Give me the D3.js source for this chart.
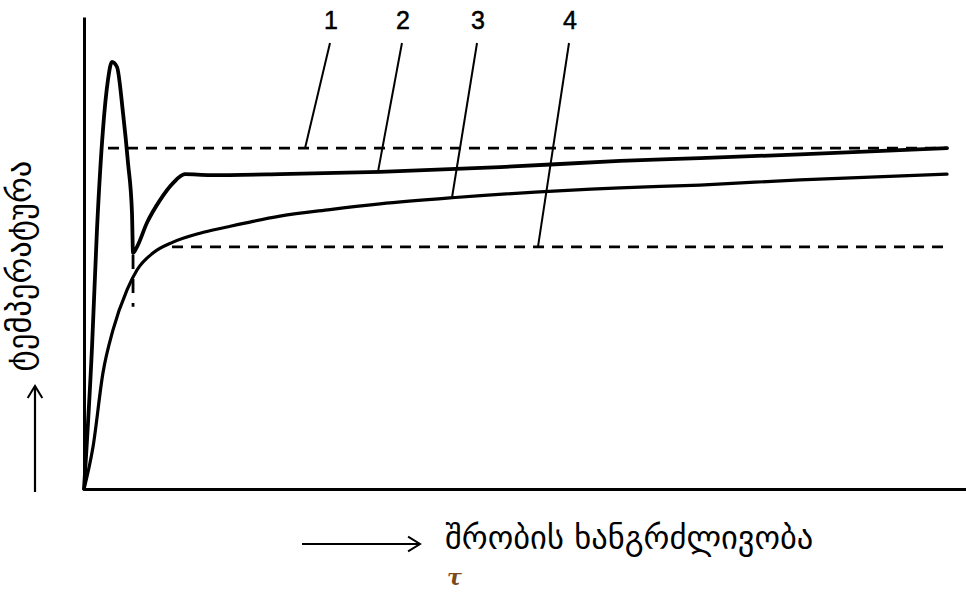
<!DOCTYPE html>
<html>
<head>
<meta charset="utf-8">
<script src="https://cdn.jsdelivr.net/npm/d3@7"></script>
<style>
  body { margin: 0; background: #fff; }
  svg { display: block; }
  .curve { fill: none; stroke: #000; stroke-linejoin: round; stroke-linecap: round; }
  .level { stroke: #000; stroke-width: 2.8; stroke-dasharray: 11,8; }
  .leader { stroke: #000; stroke-width: 2; }
  .num { font-family: "Liberation Sans", Arial, sans-serif; font-size: 25px; }
  .geo { font-family: "DejaVu Sans", sans-serif; font-size: 32.5px; }
</style>
</head>
<body>
<div id="chart"></div>
<script>
// drying time (arbitrary units) / temperature (arbitrary units)
const curve2Time = [0, 0.091, 0.147, 0.215, 0.272, 0.317, 0.374, 0.442, 0.499, 0.544, 0.556, 0.601, 0.714, 0.862, 1.009, 1.145, 1.429, 2.222, 3.356, 4.717, 6.077, 6.984, 8.118, 9.785]
const curve2Temp = [0, 30.1, 54.9, 76.1, 86.7, 90.5, 89.4, 79.7, 69.1, 58.5, 50.0, 51.3, 56.4, 61.2, 64.8, 66.7, 66.5, 66.7, 67.2, 68.2, 69.5, 70.1, 70.9, 72.2]

const curve3Time = [0, 0.102, 0.215, 0.329, 0.488, 0.601, 0.782, 1.009, 1.315, 1.621, 1.916, 2.222, 2.789, 3.356, 4.172, 6.077, 6.984, 8.118, 9.785]
const curve3Temp = [0, 8.9, 24.6, 33.7, 42.2, 46.4, 50.0, 52.3, 54.2, 55.5, 56.7, 57.8, 59.2, 60.4, 61.7, 63.8, 64.4, 65.5, 66.7]

// dashed levels 1 (upper) and 4 (lower): [start time, end time, temperature]
const level1 = [0.272, 9.785, 72.2]
const level4 = [0.998, 9.785, 51.3]

// small dashed drop line under the dip of curve 2
const dropTime = 0.556
const dropTemp = [38.6, 49.6]

// curve labels: text, time where the label sits, time where the leader meets its line
const labelNames = ['1', '2', '3', '4']
const labelTime = [2.789, 3.605, 4.456, 5.499]
const leaderTime = [2.506, 3.333, 4.172, 5.147]

const yTitle = 'ტემპერატურა'
const xTitle = 'შრობის ხანგრძლივობა'
const xSymbol = 'τ'

const W = 966, H = 592
let margin = { top: 17, right: 0, bottom: 103, left: 84 }

let x = d3.scaleLinear().domain([0, 10]).range([margin.left, W - margin.right])
let y = d3.scaleLinear().domain([0, 100]).range([H - margin.bottom, margin.top])

let svg = d3.select('#chart').append('svg')
    .attr('width', W)
    .attr('height', H)

// axes, no ticks
svg.append('g')
    .attr('transform', `translate(0,${y(0)})`)
    .call(d3.axisBottom(x).ticks(0).tickSizeOuter(0))
    .call(g => g.select('.domain').attr('stroke-width', 3))
svg.append('g')
    .attr('transform', `translate(${x(0)},0)`)
    .call(d3.axisLeft(y).ticks(0).tickSizeOuter(0))
    .call(g => g.select('.domain').attr('stroke-width', 3))

// dashed levels
const levels = [level1, level4]
svg.selectAll('.level').data(levels).join('line')
    .attr('class', 'level')
    .attr('x1', d => x(d[0]))
    .attr('x2', d => x(d[1]))
    .attr('y1', d => y(d[2]))
    .attr('y2', d => y(d[2]))

svg.append('line')
    .attr('class', 'level')
    .style('stroke-dasharray', '14,10')
    .attr('x1', x(dropTime)).attr('x2', x(dropTime))
    .attr('y1', y(dropTemp[1])).attr('y2', y(dropTemp[0]))

// curves
const c2 = curve2Time.map((t, i) => ({ t, v: curve2Temp[i] }))
const c3 = curve3Time.map((t, i) => ({ t, v: curve3Temp[i] }))

let line = d3.line()
    .curve(d3.curveMonotoneX)
    .x(d => x(d.t))
    .y(d => y(d.v))

svg.append('path').datum(c2)
    .attr('class', 'curve')
    .attr('stroke-width', 3.8)
    .attr('d', line)
svg.append('path').datum(c3)
    .attr('class', 'curve')
    .attr('stroke-width', 3.2)
    .attr('d', line)

// value of a series at time t, linear between read points
function valueAt(data, t) {
    let i = d3.bisector(d => d.t).left(data, t)
    if (i <= 0) return data[0].v
    if (i >= data.length) return data[data.length - 1].v
    let a = data[i - 1], b = data[i]
    return a.v + (b.v - a.v) * (t - a.t) / (b.t - a.t)
}

const targets = [
    t => level1[2],
    t => valueAt(c2, t),
    t => valueAt(c3, t),
    t => level4[2]
]

const labelTop = 43, labelBase = 29
let labels = svg.selectAll('.lab').data(labelNames).join('g').attr('class', 'lab')
labels.append('line')
    .attr('class', 'leader')
    .attr('x1', (d, i) => x(labelTime[i]))
    .attr('y1', labelTop)
    .attr('x2', (d, i) => x(leaderTime[i]))
    .attr('y2', (d, i) => y(targets[i](leaderTime[i])))
labels.append('text')
    .attr('class', 'num')
    .attr('x', (d, i) => x(labelTime[i]) + 1)
    .attr('y', labelBase)
    .attr('text-anchor', 'middle')
    .attr('stroke', '#000')
    .attr('stroke-width', 0.5)
    .text(d => d)

// arrow helper: open chevron head
function arrow(x1, y1, x2, y2) {
    let g = svg.append('g').attr('stroke', '#000').attr('fill', 'none')
    g.append('line').attr('x1', x1).attr('y1', y1).attr('x2', x2).attr('y2', y2)
        .attr('stroke-width', 2.2)
    let a = Math.atan2(y2 - y1, x2 - x1), L = 14, s = 0.55
    g.append('path')
        .attr('stroke-width', 2)
        .attr('d', `M${x2 - L * Math.cos(a - s)},${y2 - L * Math.sin(a - s)}L${x2},${y2}L${x2 - L * Math.cos(a + s)},${y2 - L * Math.sin(a + s)}`)
}

arrow(302, 544, 420, 544)
arrow(35, 492, 35, 386)

svg.append('text')
    .attr('class', 'geo')
    .attr('x', 445)
    .attr('y', 549)
    .text(xTitle)

svg.append('text')
    .attr('x', 447)
    .attr('y', 585)
    .attr('font-family', 'DejaVu Serif, serif')
    .attr('font-style', 'italic')
    .attr('font-weight', 'bold')
    .attr('font-size', 22)
    .attr('fill', '#7a4a1a')
    .text(xSymbol)

svg.append('text')
    .attr('class', 'geo')
    .attr('transform', 'translate(31,266) rotate(-90)')
    .attr('text-anchor', 'middle')
    .text(yTitle)
</script>
</body>
</html>
